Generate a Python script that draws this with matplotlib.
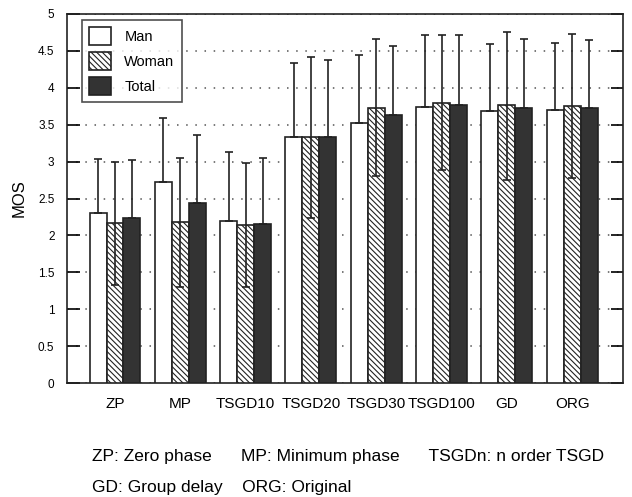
import numpy as np
import matplotlib
matplotlib.use("Agg")
import matplotlib.pyplot as plt

plt.rcParams['font.family'] = ['Liberation Sans', 'DejaVu Sans']
plt.rcParams['hatch.linewidth'] = 0.8

methods = ['ZP', 'MP', 'TSGD10', 'TSGD20', 'TSGD30', 'TSGD100', 'GD', 'ORG']
series = ['Man', 'Woman', 'Total']

man = [2.31, 2.72, 2.20, 3.33, 3.52, 3.74, 3.69, 3.70]
woman = [2.17, 2.18, 2.14, 3.33, 3.73, 3.79, 3.76, 3.75]
total = [2.23, 2.44, 2.16, 3.33, 3.63, 3.76, 3.73, 3.72]

# upper ends of the error bars
man_top = [3.04, 3.59, 3.13, 4.34, 4.44, 4.72, 4.59, 4.60]
woman_top = [3.00, 3.05, 2.98, 4.42, 4.66, 4.71, 4.76, 4.73]
total_top = [3.02, 3.36, 3.05, 4.38, 4.56, 4.71, 4.66, 4.65]
# lower ends, only visible on the hatched bars
woman_low = [1.33, 1.30, 1.30, 2.23, 2.80, 2.88, 2.75, 2.78]

x = np.arange(len(methods))
w = 0.26

fig = plt.figure(figsize=(6.32, 4.97), dpi=100)
ax = fig.add_axes([0.106, 0.229, 0.880, 0.743])

ax.set_axisbelow(True)
ax.yaxis.grid(True, linestyle=(0, (1, 5)), color='#555555', linewidth=1.1)

styles = [
    dict(facecolor='white', edgecolor='#222222', hatch=None),
    dict(facecolor='white', edgecolor='#222222', hatch='\\\\\\\\\\\\'),
    dict(facecolor='#333333', edgecolor='#222222', hatch=None),
]
vals = [man, woman, total]
tops = [man_top, woman_top, total_top]

for i in range(3):
    pos = x + (i - 1) * w
    ax.bar(pos, vals[i], w, label=series[i], linewidth=1.2, zorder=3, **styles[i])
    up = np.array(tops[i]) - np.array(vals[i])
    if i == 1:
        lo = np.array(vals[i]) - np.array(woman_low)
    else:
        lo = np.zeros(len(methods))
    ax.errorbar(pos, vals[i], yerr=[lo, up], fmt='none', ecolor='#222222',
                elinewidth=1.2, capsize=3, capthick=1.2, zorder=4)

ax.set_xlim(-0.735, 7.78)
ax.set_ylim(0, 5)
ax.set_yticks(np.arange(0, 5.01, 0.5))
ax.set_yticklabels(['0', '0.5', '1', '1.5', '2', '2.5', '3', '3.5', '4', '4.5', '5'])
ax.set_xticks(x)
ax.set_xticklabels(methods, fontsize=11)
ax.tick_params(axis='y', direction='in', right=True, length=9, labelsize=8.5,
               width=1.2, pad=9)
ax.tick_params(axis='x', length=0, pad=10)
ax.set_ylabel('MOS', fontsize=12, labelpad=8)
for s in ax.spines.values():
    s.set_linewidth(1.2)
    s.set_color('#222222')

leg = ax.legend(loc='upper left', fontsize=10.5, frameon=True, fancybox=False,
                edgecolor='#222222', borderpad=0.5, handlelength=1.5,
                handleheight=1.5, labelspacing=0.5, handletextpad=0.9,
                borderaxespad=0, bbox_to_anchor=(0.027, 0.984))
leg.get_frame().set_linewidth(1.2)

fig.text(0.145, 0.082, 'ZP: Zero phase      MP: Minimum phase      TSGDn: n order TSGD',
         fontsize=12.5, ha='left', va='center')
fig.text(0.145, 0.02, 'GD: Group delay    ORG: Original',
         fontsize=12.5, ha='left', va='center')

fig.savefig('out.png', dpi=100)
